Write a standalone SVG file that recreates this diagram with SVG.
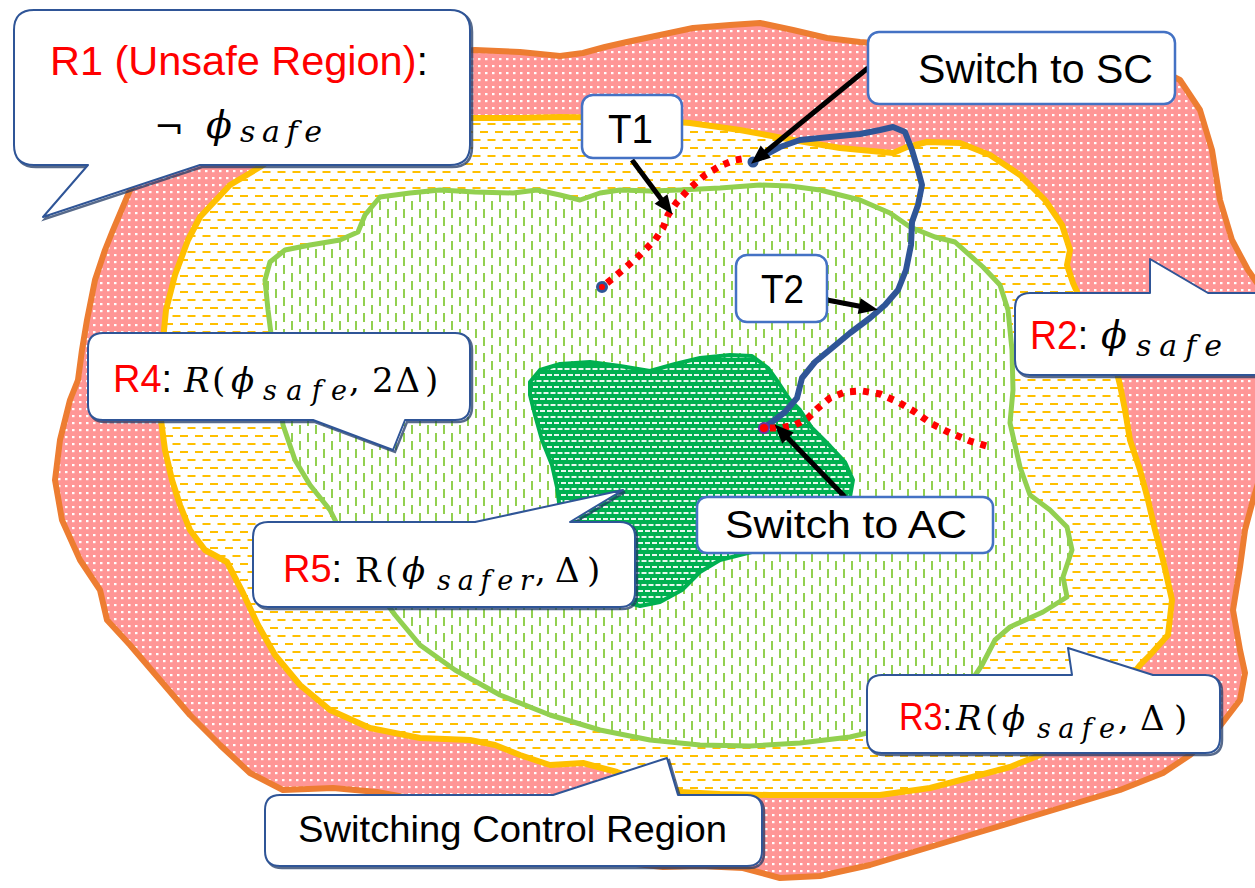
<svg xmlns="http://www.w3.org/2000/svg" width="1255" height="888" viewBox="0 0 1255 888">
  <defs>
    <!-- region fills -->
    <pattern id="pDots" width="7" height="7" patternUnits="userSpaceOnUse">
      <rect width="7" height="7" fill="#FF9696"/>
      <rect x="2" y="2" width="2.5" height="2.2" fill="#FFFFFF"/>
    </pattern>
    <pattern id="pYellow" width="15" height="16" patternUnits="userSpaceOnUse">
      <rect width="15" height="16" fill="#FFFFFF"/>
      <rect x="0" y="3" width="8" height="2" fill="#FFC000"/>
      <rect x="7.5" y="11" width="8" height="2" fill="#FFC000"/>
      <rect x="-7.5" y="11" width="8" height="2" fill="#FFC000"/>
    </pattern>
    <pattern id="pGreen" width="16" height="16" patternUnits="userSpaceOnUse">
      <rect width="16" height="16" fill="#FFFFFF"/>
      <rect x="3" y="1" width="2" height="9" fill="#92D050"/>
      <rect x="11" y="9" width="2" height="9" fill="#92D050"/>
      <rect x="11" y="-7" width="2" height="9" fill="#92D050"/>
    </pattern>
    <pattern id="pDark" width="14" height="12" patternUnits="userSpaceOnUse">
      <rect width="14" height="12" fill="#00B050"/>
      <rect x="1" y="2" width="5" height="2" fill="#E8F8EE"/>
      <rect x="8" y="2" width="5" height="2" fill="#E8F8EE"/>
      <rect x="4.5" y="8" width="5" height="2" fill="#E8F8EE"/>
      <rect x="11.5" y="8" width="5" height="2" fill="#E8F8EE"/>
      <rect x="-2.5" y="8" width="5" height="2" fill="#E8F8EE"/>
    </pattern>
    <marker id="ah" markerUnits="userSpaceOnUse" markerWidth="20" markerHeight="18" refX="10" refY="8" orient="auto" overflow="visible">
      <path d="M0,0 L19,8 L0,16 Z" fill="#000000"/>
    </marker>
  </defs>
  <style>
    .region { stroke-linejoin: round; stroke-linecap: round; }
    .box { fill: #FFFFFF; stroke: #4472C4; stroke-width: 2.5; }
    .callout { fill: #FFFFFF; stroke: #2F5597; stroke-width: 2; stroke-linejoin: round; }
    .shadow { fill: none; stroke: #1F3864; stroke-width: 2.5; opacity: 0.75; }
    .arrow { stroke: #000000; stroke-width: 5; fill: none; marker-end: url(#ah); }
    .traj { fill: none; stroke: #2F5597; stroke-width: 6; stroke-linejoin: round; stroke-linecap: round; }
    .dotted { fill: none; stroke: #FF0000; stroke-width: 7; stroke-dasharray: 6 7; }
    .sans { font-family: "Liberation Sans", Arial, sans-serif; fill: #000000; }
    .red { fill: #FF0000; }
    .math { font-family: "DejaVu Serif", "Liberation Serif", serif; font-style: italic; fill: #000000; }
    .up { font-style: normal; }
  </style>

  <!-- nested regions -->
  <g id="regions">
    <path id="region-r1" class="region" fill="url(#pDots)" stroke="#ED7D31" stroke-width="6"
      d="M130,190 L150,160 L190,120 L250,90 L330,70 L420,55 L475,50 L520,52 L560,56 L583,53 L605,47 L627,42 L660,35 L693,28 L730,25 L760,23 L793,30 L827,38 L860,42 L900,45 L960,45 L1020,45 L1080,50 L1140,60 L1180,80 L1200,110 L1212,150 L1220,200 L1232,240 L1248,270 L1262,290 L1262,470 L1253,500 L1245,530 L1240,567 L1233,610 L1240,650 L1245,673 L1240,700 L1217,730 L1190,755 L1163,773 L1120,790 L1070,805 L1020,820 L970,835 L920,850 L870,865 L820,876 L780,878 L743,868 L700,866 L663,867 L600,860 L500,840 L420,800 L377,792 L333,788 L283,790 L250,773 L220,745 L190,715 L160,680 L130,645 L107,620 L100,590 L80,560 L62,520 L55,480 L60,440 L70,400 L78,380 L82,350 L87,320 L95,280 L105,250 L113,230 Z"/>
    <path id="region-r2" class="region" fill="url(#pYellow)" stroke="#FFC000" stroke-width="6"
      d="M200,217 L230,185 L260,167 L300,140 L360,125 L420,118 L470,118 L520,118 L560,117 L620,118 L690,123 L740,130 L793,140 L840,148 L893,153 L907,147 L927,142 L960,143 L990,155 L1020,175 L1045,200 L1062,225 L1070,250 L1067,265 L1073,283 L1085,310 L1100,340 L1115,365 L1120,385 L1125,410 L1130,440 L1140,470 L1148,500 L1155,530 L1163,560 L1172,600 L1168,635 L1150,655 L1140,665 L1120,690 L1080,730 L1040,755 L1010,767 L980,775 L930,788 L880,795 L820,795 L770,795 L720,794 L680,792 L640,780 L617,772 L583,763 L550,765 L520,755 L495,745 L470,740 L420,738 L370,728 L330,710 L300,685 L275,655 L258,625 L243,593 L227,562 L205,550 L190,530 L180,505 L172,480 L165,450 L161,420 L160,390 L162,350 L166,310 L175,275 L188,240 Z"/>
    <path id="region-r3" class="region" fill="url(#pGreen)" stroke="#92D050" stroke-width="5"
      d="M380,197 L410,193 L440,190 L475,192 L513,193 L537,190 L560,195 L580,200 L600,193 L620,190 L650,191 L680,190 L720,188 L760,185 L790,186 L820,190 L860,200 L890,213 L910,227 L935,237 L955,242 L983,267 L1000,285 L1008,310 L1012,350 L1013,390 L1010,423 L1015,445 L1020,467 L1030,495 L1050,510 L1067,527 L1072,550 L1063,577 L1067,597 L1043,612 L1010,627 L995,640 L982,665 L962,695 L920,718 L880,730 L850,737 L800,743 L750,746 L700,745 L650,740 L600,730 L550,715 L500,695 L455,670 L420,645 L395,615 L370,580 L345,540 L330,510 L310,485 L295,460 L283,425 L278,390 L273,350 L268,310 L265,280 L270,262 L285,250 L310,245 L340,240 L358,232 L365,215 Z"/>
    <path id="region-r5" class="region" fill="url(#pDark)" stroke="#00B050" stroke-width="4"
      d="M530,382 L540,370 L560,364 L590,362 L620,366 L650,371 L675,364 L700,358 L730,355 L752,356 L768,368 L778,382 L790,400 L800,410 L812,428 L830,446 L845,462 L853,480 L850,497 L830,525 L780,545 L720,560 L700,572 L682,590 L660,602 L640,606 L620,600 L590,570 L568,535 L560,510 L557,487 L552,465 L542,440 L535,415 L530,395 Z"/>
  </g>

  <!-- trajectories -->
  <g id="trajectories">
    <path id="t1-path" class="dotted"
      d="M607,283 L612,279 L625,268 L640,255 L655,240 L663,228 L668,215 L677,202 L690,188 L705,175 L720,166 L735,160 L748,158"/>
    <path id="t2-path" class="traj"
      d="M752,162 L765,155 L780,147 L800,140 L830,137 L860,134 L880,130 L893,127 L905,132 L912,150 L918,170 L922,185 L918,205 L912,222 L911,245 L906,270 L898,290 L885,305 L870,318 L850,333 L832,348 L815,362 L802,378 L797,398 L785,412 L772,422 L763,428"/>
    <path id="ac-path" class="dotted"
      d="M770,428 L780,428 L795,425 L808,418 L818,408 L830,398 L845,392 L862,391 L880,394 L898,402 L915,412 L932,424 L950,433 L970,441 L990,447"/>
    <circle cx="602" cy="287" r="4.5" fill="#FF0000" stroke="#2F5597" stroke-width="3"/>
    <circle cx="753" cy="162" r="5.5" fill="#2F5597"/>
    <circle cx="764" cy="428" r="5" fill="#FF0000" stroke="#7030A0" stroke-width="2"/>
  </g>

  <!-- pointer arrows -->
  <g id="connectors">
    <line class="arrow" x1="868" y1="68" x2="758" y2="158"/>
    <line class="arrow" x1="632" y1="160" x2="667" y2="207"/>
    <line class="arrow" x1="827" y1="300" x2="869" y2="308"/>
    <line class="arrow" x1="845" y1="497" x2="781" y2="431"/>
  </g>

  <!-- callout R1 -->
  <g id="callout-r1">
    <path class="shadow" transform="translate(2,2)" d="M34,10 H450 Q470,10 470,30 V145 Q470,165 450,165 H200 L43,217 L88,165 H34 Q14,165 14,145 V30 Q14,10 34,10 Z"/>
    <path class="callout" d="M34,10 H450 Q470,10 470,30 V145 Q470,165 450,165 H200 L43,217 L88,165 H34 Q14,165 14,145 V30 Q14,10 34,10 Z"/>
    <text class="sans" x="50" y="75" font-size="41" textLength="378" lengthAdjust="spacingAndGlyphs"><tspan class="red">R1 (Unsafe Region)</tspan>:</text>
    <text class="math up" x="154" y="139" font-size="36">¬</text>
    <text class="math" x="206" y="138" font-size="38">ϕ</text>
    <text class="math" x="240" y="142" font-size="30" textLength="82">safe</text>
  </g>

  <!-- callout R2 -->
  <g id="callout-r2">
    <path class="shadow" transform="translate(2,2)" d="M1030,293 H1150 V259 L1208,293 H1262 V375 H1030 Q1015,375 1015,360 V308 Q1015,293 1030,293 Z"/>
    <path class="callout" d="M1030,293 H1150 V259 L1208,293 H1262 V375 H1030 Q1015,375 1015,360 V308 Q1015,293 1030,293 Z"/>
    <text class="sans" x="1030" y="349" font-size="40" textLength="58" lengthAdjust="spacingAndGlyphs"><tspan class="red">R2</tspan>:</text>
    <text class="math" x="1101" y="348" font-size="38">ϕ</text>
    <text class="math" x="1136" y="356" font-size="30" textLength="86">safe</text>
  </g>

  <!-- callout R4 -->
  <g id="callout-r4">
    <path class="shadow" transform="translate(2,2)" d="M103,333 H455 Q470,333 470,348 V405 Q470,420 455,420 H405 L393,450 L313,420 H103 Q88,420 88,405 V348 Q88,333 103,333 Z"/>
    <path class="callout" d="M103,333 H455 Q470,333 470,348 V405 Q470,420 455,420 H405 L393,450 L313,420 H103 Q88,420 88,405 V348 Q88,333 103,333 Z"/>
    <text class="sans" x="113" y="392" font-size="38" textLength="59" lengthAdjust="spacingAndGlyphs"><tspan class="red">R4</tspan>:</text>
    <text class="math" x="184" y="392" font-size="34">R</text>
    <text class="math up" x="212" y="392" font-size="34">(</text>
    <text class="math" x="231" y="392" font-size="34">ϕ</text>
    <text class="math" x="263" y="400" font-size="27" textLength="84">safe</text>
    <text class="math up" x="349" y="392" font-size="34">,</text>
    <text class="math up" x="372" y="392" font-size="34" textLength="48">2Δ</text>
    <text class="math up" x="425" y="392" font-size="34">)</text>
  </g>

  <!-- callout R5 -->
  <g id="callout-r5">
    <path class="shadow" transform="translate(2,2)" d="M268,522 H475 L623,490 L570,522 H620 Q635,522 635,537 V592 Q635,607 620,607 H268 Q253,607 253,592 V537 Q253,522 268,522 Z"/>
    <path class="callout" d="M268,522 H475 L623,490 L570,522 H620 Q635,522 635,537 V592 Q635,607 620,607 H268 Q253,607 253,592 V537 Q253,522 268,522 Z"/>
    <text class="sans" x="283" y="582" font-size="38" textLength="59" lengthAdjust="spacingAndGlyphs"><tspan class="red">R5</tspan>:</text>
    <text class="math up" x="355" y="582" font-size="34">R</text>
    <text class="math up" x="385" y="582" font-size="34">(</text>
    <text class="math" x="402" y="582" font-size="34">ϕ</text>
    <text class="math" x="437" y="590" font-size="27" textLength="96">safer</text>
    <text class="math up" x="535" y="582" font-size="34">,</text>
    <text class="math up" x="555" y="582" font-size="34" textLength="30">Δ</text>
    <text class="math up" x="587" y="582" font-size="34">)</text>
  </g>

  <!-- callout R3 -->
  <g id="callout-r3">
    <path class="shadow" transform="translate(2,2)" d="M882,675 H1072 L1068,648 L1153,675 H1205 Q1220,675 1220,690 V738 Q1220,753 1205,753 H882 Q867,753 867,738 V690 Q867,675 882,675 Z"/>
    <path class="callout" d="M882,675 H1072 L1068,648 L1153,675 H1205 Q1220,675 1220,690 V738 Q1220,753 1205,753 H882 Q867,753 867,738 V690 Q867,675 882,675 Z"/>
    <text class="sans" x="899" y="730" font-size="38" textLength="53" lengthAdjust="spacingAndGlyphs"><tspan class="red">R3</tspan>:</text>
    <text class="math" x="956" y="730" font-size="34">R</text>
    <text class="math up" x="985" y="730" font-size="34">(</text>
    <text class="math" x="1002" y="730" font-size="34">ϕ</text>
    <text class="math" x="1037" y="738" font-size="27" textLength="78">safe</text>
    <text class="math up" x="1118" y="730" font-size="34">,</text>
    <text class="math up" x="1140" y="730" font-size="34" textLength="30">Δ</text>
    <text class="math up" x="1174" y="730" font-size="34">)</text>
  </g>

  <!-- callout: switching control region -->
  <g id="callout-scr">
    <path class="shadow" transform="translate(2,2)" d="M280,795 H553 L667,758 L678,795 H747 Q762,795 762,810 V851 Q762,866 747,866 H280 Q265,866 265,851 V810 Q265,795 280,795 Z"/>
    <path class="callout" d="M280,795 H553 L667,758 L678,795 H747 Q762,795 762,810 V851 Q762,866 747,866 H280 Q265,866 265,851 V810 Q265,795 280,795 Z"/>
    <text class="sans" x="298" y="842" font-size="37" textLength="429" lengthAdjust="spacingAndGlyphs">Switching Control Region</text>
  </g>

  <!-- label boxes -->
  <g id="box-sc">
    <rect class="box" x="868" y="32" width="307" height="72" rx="11"/>
    <text class="sans" x="918" y="83" font-size="41" textLength="235" lengthAdjust="spacingAndGlyphs">Switch to SC</text>
  </g>
  <g id="box-t1">
    <rect class="box" x="582" y="95" width="100" height="63" rx="11"/>
    <text class="sans" x="608" y="143" font-size="40" textLength="45" lengthAdjust="spacingAndGlyphs">T1</text>
  </g>
  <g id="box-t2">
    <rect class="box" x="736" y="255" width="91" height="67" rx="11"/>
    <text class="sans" x="761" y="303" font-size="40" textLength="43" lengthAdjust="spacingAndGlyphs">T2</text>
  </g>
  <g id="box-ac">
    <rect class="box" x="697" y="497" width="296" height="56" rx="10"/>
    <text class="sans" x="725" y="538" font-size="38" textLength="242" lengthAdjust="spacingAndGlyphs">Switch to AC</text>
  </g>
</svg>
